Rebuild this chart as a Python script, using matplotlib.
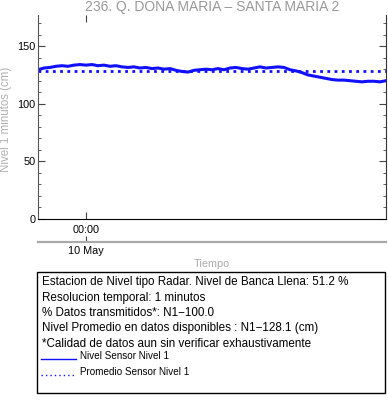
import numpy as np
import pandas as pd
import matplotlib
matplotlib.use('Agg')
import matplotlib.pyplot as plt
import matplotlib.dates as mdates
from matplotlib.lines import Line2D
from matplotlib.patches import Rectangle

plt.rcParams['font.family'] = ['Liberation Sans', 'DejaVu Sans']

# half-hourly readings (cm) from 9 May 20:00 to 11 May 00:00
start = '2019-05-09 20:00'
nivel = [129.5, 131.0, 131.5, 132.5, 133.0, 132.5, 133.5, 134.0, 133.5, 134.0,
         133.0, 133.5, 132.5, 133.0, 132.0, 131.5, 132.0, 131.0, 131.5, 130.5,
         131.0, 130.0, 130.5, 129.0, 128.0, 127.5, 129.0, 129.5, 130.0, 129.5,
         130.5, 129.5, 131.0, 131.5, 130.5, 130.0, 131.0, 132.0, 131.0, 131.5,
         132.0, 131.5, 129.5, 128.5, 127.0, 125.0, 124.0, 123.0, 122.0, 121.0,
         120.5, 120.5, 120.0, 119.5, 119.0, 119.5, 119.5, 119.0, 120.0]
promedio = 128.1
tiempo = pd.date_range(start, periods=len(nivel), freq='30min')

titulo = '236. Q. DONA MARIA \u2013 SANTA MARIA 2'
info = ['Estacion de Nivel tipo Radar. Nivel de Banca Llena: 51.2 %',
        'Resolucion temporal: 1 minutos',
        '% Datos transmitidos*: N1\u2212100.0',
        'Nivel Promedio en datos disponibles : N1\u2212128.1 (cm)',
        '*Calidad de datos aun sin verificar exhaustivamente']
leyenda = ['Nivel Sensor Nivel 1', 'Promedio Sensor Nivel 1']

W, H = 388, 404
fig = plt.figure(figsize=(W / 100, H / 100), dpi=100)
ax = fig.add_axes([38 / W, 1 - 219 / H, 348 / W, 204 / H])

ax.plot(tiempo, nivel, color='#1010ff', lw=2.2)
ax.plot([tiempo[0], tiempo[-1]], [promedio, promedio], color='#1010ff',
        lw=2, linestyle=(0, (1, 1.6)))

ax.set_xlim(tiempo[0], tiempo[-1])
ax.set_ylim(0, 177)
ax.set_yticks([0, 50, 100, 150])
ax.set_yticks(np.arange(0, 177, 10), minor=True)
ax.set_xticks([pd.Timestamp('2019-05-10 00:00')])
ax.xaxis.set_major_formatter(mdates.DateFormatter('%H:%M'))
ax.tick_params(axis='both', which='both', direction='in', colors='#444444',
               labelcolor='black', labelsize=7.8, top=True, right=True)
ax.tick_params(which='major', length=5)
ax.tick_params(which='minor', length=2.5)
ax.tick_params(axis='y', pad=2)
ax.tick_params(axis='x', pad=4)
ax.spines['top'].set_visible(False)
ax.spines['left'].set_color('#555555')
ax.spines['right'].set_color('#333333')
ax.spines['bottom'].set_color('black')

ax.set_title(titulo, color='#999999', fontsize=10, pad=3)
ax.set_ylabel('Nivel 1 minutos (cm)', color='#b0b0b0', fontsize=8.3)
ax.yaxis.set_label_coords(-26 / 348, 0.49)

sec = ax.secondary_xaxis(-23 / 204)
sec.set_xticks([pd.Timestamp('2019-05-10 00:00')])
sec.xaxis.set_major_formatter(mdates.DateFormatter('%d %b'))
sec.spines['bottom'].set_color('#aaaaaa')
sec.spines['bottom'].set_linewidth(1.6)
sec.tick_params(direction='in', length=4, colors='#444444', labelcolor='black',
                labelsize=7.8, pad=3)
sec.set_xlabel('Tiempo', color='#aaaaaa', fontsize=7.8, labelpad=2)

# info box
fig.patches.append(Rectangle((37 / W, 1 - 393 / H), 348 / W, 121 / H,
                             transform=fig.transFigure, fill=False,
                             edgecolor='black', lw=1))
for i, t in enumerate(info):
    fig.text(42 / W, 1 - (282 + 15.5 * i) / H, t, fontsize=8.35, va='center')
estilos = ['-', (0, (1, 2.2))]
for i, (t, ls) in enumerate(zip(leyenda, estilos)):
    y = 1 - (359 + 16 * i) / H
    fig.lines.append(Line2D([41 / W, 76 / W], [y, y], transform=fig.transFigure,
                            color='#1010ff', lw=1, linestyle=ls))
    fig.text(80 / W, y + 3 / H, t, fontsize=7.1, va='center')

fig.savefig('out.png', dpi=100)
